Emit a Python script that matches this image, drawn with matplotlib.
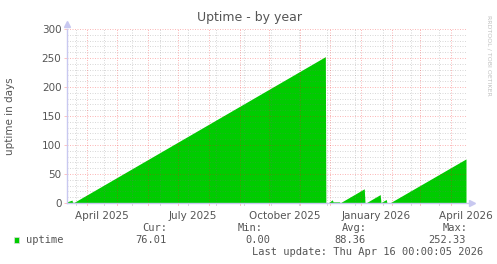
import matplotlib
matplotlib.use("Agg")
import matplotlib.pyplot as plt
import matplotlib.transforms as mtransforms
from datetime import datetime, timedelta

# ---- data ----
point_dates = ["2025-03-12", "2025-03-17", "2025-03-17 12:00", "2025-03-19",
               "2025-11-26", "2025-11-26 12:00", "2025-11-29", "2025-12-03",
               "2025-12-03 18:00", "2025-12-10", "2025-12-11", "2026-01-04",
               "2026-01-04 18:00", "2026-01-06", "2026-01-20", "2026-01-20 18:00",
               "2026-01-22", "2026-01-26", "2026-01-26 18:00", "2026-01-30",
               "2026-04-16"]
uptime_days = [2.0, 5.0, 1.5, 1.0,
               252.33, 0.0, 0.5, 5.5,
               2.0, 2.0, 0.5, 24.5,
               0.5, 0.5, 14.5, 0.5,
               2.0, 6.0, 0.5, 0.5,
               76.01]

x_start = "2025-03-12"
x_end = "2026-04-16"
label_dates = ["2025-04-16", "2025-07-16", "2025-10-16", "2026-01-16", "2026-04-16"]
label_texts = ["April 2025", "July 2025", "October 2025", "January 2026", "April 2026"]
y_ticks = [0, 50, 100, 150, 200, 250, 300]

title = "Uptime - by year"
ylabel = "uptime in days"
legend_name = "uptime"
stat_names = ["Cur:", "Min:", "Avg:", "Max:"]
stat_values = ["76.01", "0.00", "88.36", "252.33"]
last_update = "Last update: Thu Apr 16 00:00:05 2026"
watermark = "RRDTOOL / TOBI OETIKER"

GREEN = "#00cc00"
TXT = "#555555"

def d(s):
    return datetime.fromisoformat(s)

fig = plt.figure(figsize=(4.97, 2.64), dpi=100)
fig.patch.set_facecolor("white")
ax = fig.add_axes([67/497, 1-203/264, (466-67)/497, (203-29)/264])
ax.set_facecolor("white")

xs = [d(s) for s in point_dates]
ax.fill_between(xs, uptime_days, 0, color=GREEN, linewidth=0, zorder=1)

x0, x1 = d(x_start), d(x_end)
ax.set_xlim(x0, x1)
ax.set_ylim(0, 300)

# grid
major_x = []
m = datetime(2025, 4, 1)
while m < x1:
    major_x.append(m)
    m = datetime(m.year + (m.month // 12), m.month % 12 + 1, 1)
minor_x = []
t = datetime(2025, 3, 21)
while t < x1:
    minor_x.append(t)
    t += timedelta(days=28)

dot = (0, (1, 1.5))
lw = 0.72
minor_col = (0.45, 0.45, 0.45, 0.27)
major_col = (0.95, 0.1, 0.1, 0.3)
for t in minor_x:
    ax.axvline(t, color=minor_col, lw=lw, ls=dot, zorder=2)
for v in range(0, 301, 10):
    if v % 50:
        ax.axhline(v, color=minor_col, lw=lw, ls=dot, zorder=2)
for t in major_x:
    ax.axvline(t, color=major_col, lw=lw, ls=dot, zorder=3)
for v in y_ticks:
    ax.axhline(v, color=major_col, lw=lw, ls=dot, zorder=3)

for s in ax.spines.values():
    s.set_visible(False)

ax.set_xticks([])
ax.set_yticks(y_ticks)
ax.set_yticklabels([str(v) for v in y_ticks], fontsize=7.5, color=TXT)
ax.tick_params(axis="y", length=2, width=0.7, color=(1.0, 0.4, 0.4, 0.4), pad=2)

trans_x = mtransforms.blended_transform_factory(ax.transData, ax.transAxes)
for s, txt in zip(label_dates, label_texts):
    ax.text(d(s), -0.045, txt, transform=trans_x, ha="center", va="top",
            fontsize=7.5, color=TXT)

# axes lines with arrows
axcol = "#c8c8f0"
ax.plot([0, 0], [0, 1.0], transform=ax.transAxes, color=axcol, lw=1.0, clip_on=False, zorder=5)
ax.plot([0, 1.01], [0, 0], transform=ax.transAxes, color=axcol, lw=1.0, clip_on=False, zorder=5)
ax.plot([0], [1.03], transform=ax.transAxes, marker="^", ms=4, color=axcol, clip_on=False, zorder=5)
ax.plot([1.015], [0], transform=ax.transAxes, marker=">", ms=4, color=axcol, clip_on=False, zorder=5)
# tick marks below x axis
for t in major_x:
    ax.plot([t, t], [0, -0.012], transform=trans_x, color=(1.0, 0.4, 0.4, 0.4), lw=0.7, clip_on=False)
for t in minor_x:
    ax.plot([t, t], [0, -0.012], transform=trans_x, color=(0.5, 0.5, 0.5, 0.3), lw=0.7, clip_on=False)

fig.text(250/497, 1-17/264, title, ha="center", va="center", fontsize=9, color=TXT)
fig.text(10/497, 1-116/264, ylabel, ha="center", va="center", rotation=90, fontsize=7.5, color=TXT)
fig.text(489/497, 1-55/264, watermark, ha="center", va="center", rotation=270, fontsize=4.5, color="#c0c0c0")

mono = "DejaVu Sans Mono"
fs = 7.5
fig.patches.append(plt.Rectangle((14/497, 1-243/264), 5/497, 6/264, transform=fig.transFigure,
                                 facecolor=GREEN, edgecolor="#dddddd", lw=0.5))
fig.text(26/497, 1-240/264, legend_name, ha="left", va="center", family=mono, fontsize=fs, color=TXT)
stat_right = [167, 263, 367, 468]
for xr, nm in zip(stat_right, stat_names):
    fig.text(xr/497, 1-228/264, nm, ha="right", va="center", family=mono, fontsize=fs, color=TXT)
for xr, val in zip([167, 270, 366, 466], stat_values):
    fig.text(xr/497, 1-240/264, val, ha="right", va="center", family=mono, fontsize=fs, color=TXT)
fig.text(483/497, 1-252/264, last_update, ha="right", va="center", family=mono, fontsize=fs, color=TXT)

fig.savefig("out.png", dpi=100, facecolor="white")
